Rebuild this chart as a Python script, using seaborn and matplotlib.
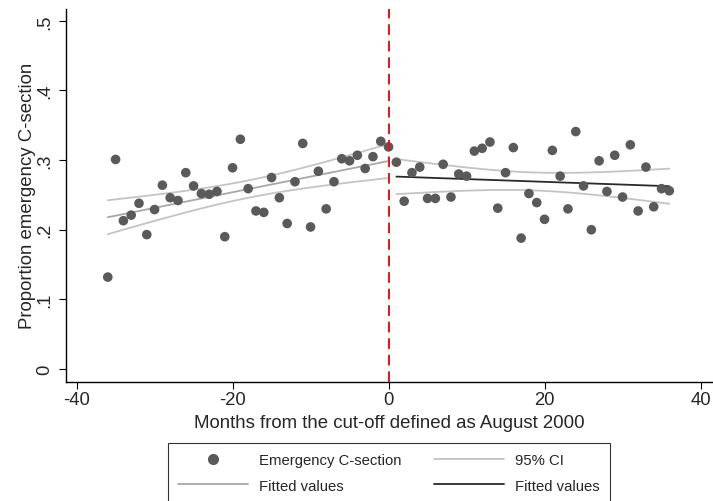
import numpy as np
import pandas as pd
import matplotlib
matplotlib.use("Agg")
import matplotlib.pyplot as plt
import seaborn as sns

# months relative to cut-off and proportion of emergency C-sections
months_before = list(range(-36, 1))
share_before = [0.132, 0.301, 0.213, 0.221, 0.238, 0.193, 0.229, 0.264, 0.246, 0.242,
                0.282, 0.263, 0.252, 0.251, 0.255, 0.190, 0.289, 0.330, 0.259, 0.227,
                0.225, 0.275, 0.246, 0.209, 0.269, 0.324, 0.204, 0.284, 0.230, 0.269,
                0.302, 0.299, 0.307, 0.288, 0.305, 0.327, 0.319]
months_after = list(range(1, 37))
share_after = [0.297, 0.241, 0.282, 0.290, 0.245, 0.245, 0.294, 0.247, 0.280, 0.277,
               0.313, 0.317, 0.326, 0.231, 0.282, 0.318, 0.188, 0.252, 0.239, 0.215,
               0.314, 0.277, 0.230, 0.341, 0.263, 0.200, 0.299, 0.255, 0.307, 0.247,
               0.322, 0.227, 0.290, 0.233, 0.259, 0.256]

x_ticks = [-40, -20, 0, 20, 40]
y_ticks = [0, 0.1, 0.2, 0.3, 0.4, 0.5]
y_ticklabels = ["0", ".1", ".2", ".3", ".4", ".5"]


def lfitci(x, y, n_grid=100):
    # OLS fit with 95% CI of the mean prediction (like Stata's lfitci)
    x = np.asarray(x, float)
    y = np.asarray(y, float)
    n = len(x)
    b, a = np.polyfit(x, y, 1)
    resid = y - (a + b * x)
    s2 = (resid ** 2).sum() / (n - 2)
    xm = x.mean()
    sxx = ((x - xm) ** 2).sum()
    grid = np.linspace(x.min(), x.max(), n_grid)
    fit = a + b * grid
    se = np.sqrt(s2 * (1.0 / n + (grid - xm) ** 2 / sxx))
    tcrit = 2.03
    return grid, fit, fit - tcrit * se, fit + tcrit * se


sns.set_style("white")
plt.rcParams['font.family'] = ['Liberation Sans', 'DejaVu Sans']

df = pd.DataFrame({"month": months_before + months_after,
                   "share": share_before + share_after})

fig = plt.figure(figsize=(7.13, 5.02), dpi=100)
ax = fig.add_axes([0.0921, 0.238, 0.9079, 0.742])

ci_col = "#c4c4c4"
gb, fb, lb, ub = lfitci(months_before, share_before)
ga, fa, la, ua = lfitci(months_after, share_after)

for g, lo, hi in [(gb, lb, ub), (ga, la, ua)]:
    sns.lineplot(x=g, y=lo, ax=ax, color=ci_col, lw=1.3)
    sns.lineplot(x=g, y=hi, ax=ax, color=ci_col, lw=1.3)
sns.lineplot(x=gb, y=fb, ax=ax, color="#a8a8a8", lw=1.3)
sns.lineplot(x=ga, y=fa, ax=ax, color="#2a2a2a", lw=1.3)

sns.scatterplot(data=df, x="month", y="share", ax=ax, color="#5a5a5a",
                s=48, edgecolor="none", zorder=5)

ax.axvline(0, color="#ee1111", lw=1.4, ls=(0, (5.5, 3)), zorder=6)

ax.set_xlim(-41.4, 41.6)
ax.set_ylim(-0.018, 0.517)
ax.set_xticks(x_ticks)
ax.set_xticklabels([str(t) for t in x_ticks])
ax.set_yticks(y_ticks)
ax.set_yticklabels(y_ticklabels, rotation=90, va="center")
ax.tick_params(axis="both", direction="out", length=5, width=0.8, color="black",
               labelsize=13.3, bottom=True, left=True)
ax.tick_params(axis="x", pad=2)
ax.tick_params(axis="y", pad=4)
for side in ["top", "right"]:
    ax.spines[side].set_visible(False)
for side in ["left", "bottom"]:
    ax.spines[side].set_color("black")
    ax.spines[side].set_linewidth(1.0)

ax.set_xlabel("Months from the cut-off defined as August 2000", fontsize=13.4, labelpad=4)
ax.set_ylabel("Proportion emergency C-section", fontsize=13.4, labelpad=0)

# legend, Stata style: two columns, filled row by row
h_pt = plt.Line2D([], [], marker="o", ls="none", color="#5a5a5a", markersize=7)
h_ci = plt.Line2D([], [], color=ci_col, lw=1.3)
h_fb = plt.Line2D([], [], color="#a8a8a8", lw=1.3)
h_fa = plt.Line2D([], [], color="#2a2a2a", lw=1.3)
leg = fig.legend([h_pt, h_fb, h_ci, h_fa],
                 ["Emergency C-section", "Fitted values", "95% CI", "Fitted values"],
                 ncol=2, loc="upper left", bbox_to_anchor=(167.5 / 713, 1 - 444 / 502),
                 fontsize=10.7, frameon=True, fancybox=False, handlelength=4.7,
                 columnspacing=2.2, handletextpad=0.75, borderpad=0.7, labelspacing=0.75,
                 borderaxespad=0)
leg.get_frame().set_edgecolor("black")
leg.get_frame().set_linewidth(0.8)

fig.savefig("out.png", dpi=100)
